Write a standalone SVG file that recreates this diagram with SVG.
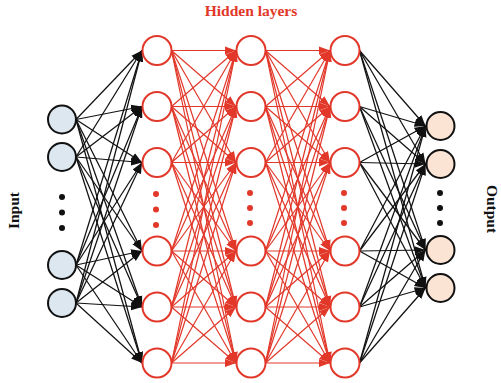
<svg xmlns="http://www.w3.org/2000/svg" width="501" height="383" viewBox="0 0 501 383">
<style>
.k line{stroke:#111;stroke-width:1.25;marker-end:url(#ak)}
.r line{stroke:#e2382a;stroke-width:1.2;marker-end:url(#ar)}
.in{fill:#dde7f0;stroke:#111;stroke-width:2}
.out{fill:#fbe4d4;stroke:#111;stroke-width:2}
.hid{fill:#fff;stroke:#e2382a;stroke-width:2}
.dk{fill:#111}
.dr{fill:#e2382a}
.lbl{font-family:"Liberation Serif","Times New Roman",serif;font-weight:bold;font-size:15.5px;text-anchor:middle}
</style>
<defs>
<marker id="ak" markerUnits="userSpaceOnUse" markerWidth="11" markerHeight="9" refX="11" refY="4.5" orient="auto"><path d="M0,0.5 L11,4.5 L0,8.5 z" fill="#111"/></marker>
<marker id="ar" markerUnits="userSpaceOnUse" markerWidth="11" markerHeight="9" refX="11" refY="4.5" orient="auto"><path d="M0,0.5 L11,4.5 L0,8.5 z" fill="#e2382a"/></marker>
</defs>
<rect width="501" height="383" fill="#fff"/>
<g id="connectors">
<g class="k">
<line x1="76" y1="119.5" x2="142" y2="50.5"/><line x1="76" y1="119.5" x2="142" y2="106.5"/><line x1="76" y1="119.5" x2="142" y2="162.5"/><line x1="76" y1="119.5" x2="142" y2="251"/><line x1="76" y1="119.5" x2="142" y2="307"/><line x1="76" y1="119.5" x2="142" y2="363"/>
<line x1="76" y1="157" x2="142" y2="50.5"/><line x1="76" y1="157" x2="142" y2="106.5"/><line x1="76" y1="157" x2="142" y2="162.5"/><line x1="76" y1="157" x2="142" y2="251"/><line x1="76" y1="157" x2="142" y2="307"/><line x1="76" y1="157" x2="142" y2="363"/>
<line x1="76" y1="265" x2="142" y2="50.5"/><line x1="76" y1="265" x2="142" y2="106.5"/><line x1="76" y1="265" x2="142" y2="162.5"/><line x1="76" y1="265" x2="142" y2="251"/><line x1="76" y1="265" x2="142" y2="307"/><line x1="76" y1="265" x2="142" y2="363"/>
<line x1="76" y1="303" x2="142" y2="50.5"/><line x1="76" y1="303" x2="142" y2="106.5"/><line x1="76" y1="303" x2="142" y2="162.5"/><line x1="76" y1="303" x2="142" y2="251"/><line x1="76" y1="303" x2="142" y2="307"/><line x1="76" y1="303" x2="142" y2="363"/>
</g>
<g class="r">
<line x1="171.5" y1="50.5" x2="236" y2="50.5"/><line x1="171.5" y1="50.5" x2="236" y2="106.5"/><line x1="171.5" y1="50.5" x2="236" y2="162.5"/><line x1="171.5" y1="50.5" x2="236" y2="251"/><line x1="171.5" y1="50.5" x2="236" y2="307"/><line x1="171.5" y1="50.5" x2="236" y2="363"/>
<line x1="171.5" y1="106.5" x2="236" y2="50.5"/><line x1="171.5" y1="106.5" x2="236" y2="106.5"/><line x1="171.5" y1="106.5" x2="236" y2="162.5"/><line x1="171.5" y1="106.5" x2="236" y2="251"/><line x1="171.5" y1="106.5" x2="236" y2="307"/><line x1="171.5" y1="106.5" x2="236" y2="363"/>
<line x1="171.5" y1="162.5" x2="236" y2="50.5"/><line x1="171.5" y1="162.5" x2="236" y2="106.5"/><line x1="171.5" y1="162.5" x2="236" y2="162.5"/><line x1="171.5" y1="162.5" x2="236" y2="251"/><line x1="171.5" y1="162.5" x2="236" y2="307"/><line x1="171.5" y1="162.5" x2="236" y2="363"/>
<line x1="171.5" y1="251" x2="236" y2="50.5"/><line x1="171.5" y1="251" x2="236" y2="106.5"/><line x1="171.5" y1="251" x2="236" y2="162.5"/><line x1="171.5" y1="251" x2="236" y2="251"/><line x1="171.5" y1="251" x2="236" y2="307"/><line x1="171.5" y1="251" x2="236" y2="363"/>
<line x1="171.5" y1="307" x2="236" y2="50.5"/><line x1="171.5" y1="307" x2="236" y2="106.5"/><line x1="171.5" y1="307" x2="236" y2="162.5"/><line x1="171.5" y1="307" x2="236" y2="251"/><line x1="171.5" y1="307" x2="236" y2="307"/><line x1="171.5" y1="307" x2="236" y2="363"/>
<line x1="171.5" y1="363" x2="236" y2="50.5"/><line x1="171.5" y1="363" x2="236" y2="106.5"/><line x1="171.5" y1="363" x2="236" y2="162.5"/><line x1="171.5" y1="363" x2="236" y2="251"/><line x1="171.5" y1="363" x2="236" y2="307"/><line x1="171.5" y1="363" x2="236" y2="363"/>
<line x1="265.5" y1="50.5" x2="330" y2="50.5"/><line x1="265.5" y1="50.5" x2="330" y2="106.5"/><line x1="265.5" y1="50.5" x2="330" y2="162.5"/><line x1="265.5" y1="50.5" x2="330" y2="251"/><line x1="265.5" y1="50.5" x2="330" y2="307"/><line x1="265.5" y1="50.5" x2="330" y2="363"/>
<line x1="265.5" y1="106.5" x2="330" y2="50.5"/><line x1="265.5" y1="106.5" x2="330" y2="106.5"/><line x1="265.5" y1="106.5" x2="330" y2="162.5"/><line x1="265.5" y1="106.5" x2="330" y2="251"/><line x1="265.5" y1="106.5" x2="330" y2="307"/><line x1="265.5" y1="106.5" x2="330" y2="363"/>
<line x1="265.5" y1="162.5" x2="330" y2="50.5"/><line x1="265.5" y1="162.5" x2="330" y2="106.5"/><line x1="265.5" y1="162.5" x2="330" y2="162.5"/><line x1="265.5" y1="162.5" x2="330" y2="251"/><line x1="265.5" y1="162.5" x2="330" y2="307"/><line x1="265.5" y1="162.5" x2="330" y2="363"/>
<line x1="265.5" y1="251" x2="330" y2="50.5"/><line x1="265.5" y1="251" x2="330" y2="106.5"/><line x1="265.5" y1="251" x2="330" y2="162.5"/><line x1="265.5" y1="251" x2="330" y2="251"/><line x1="265.5" y1="251" x2="330" y2="307"/><line x1="265.5" y1="251" x2="330" y2="363"/>
<line x1="265.5" y1="307" x2="330" y2="50.5"/><line x1="265.5" y1="307" x2="330" y2="106.5"/><line x1="265.5" y1="307" x2="330" y2="162.5"/><line x1="265.5" y1="307" x2="330" y2="251"/><line x1="265.5" y1="307" x2="330" y2="307"/><line x1="265.5" y1="307" x2="330" y2="363"/>
<line x1="265.5" y1="363" x2="330" y2="50.5"/><line x1="265.5" y1="363" x2="330" y2="106.5"/><line x1="265.5" y1="363" x2="330" y2="162.5"/><line x1="265.5" y1="363" x2="330" y2="251"/><line x1="265.5" y1="363" x2="330" y2="307"/><line x1="265.5" y1="363" x2="330" y2="363"/>
</g>
<g class="k">
<line x1="359.5" y1="50.5" x2="425.5" y2="126"/><line x1="359.5" y1="50.5" x2="425.5" y2="164"/><line x1="359.5" y1="50.5" x2="425.5" y2="250"/><line x1="359.5" y1="50.5" x2="425.5" y2="288"/>
<line x1="359.5" y1="106.5" x2="425.5" y2="126"/><line x1="359.5" y1="106.5" x2="425.5" y2="164"/><line x1="359.5" y1="106.5" x2="425.5" y2="250"/><line x1="359.5" y1="106.5" x2="425.5" y2="288"/>
<line x1="359.5" y1="162.5" x2="425.5" y2="126"/><line x1="359.5" y1="162.5" x2="425.5" y2="164"/><line x1="359.5" y1="162.5" x2="425.5" y2="250"/><line x1="359.5" y1="162.5" x2="425.5" y2="288"/>
<line x1="359.5" y1="251" x2="425.5" y2="126"/><line x1="359.5" y1="251" x2="425.5" y2="164"/><line x1="359.5" y1="251" x2="425.5" y2="250"/><line x1="359.5" y1="251" x2="425.5" y2="288"/>
<line x1="359.5" y1="307" x2="425.5" y2="126"/><line x1="359.5" y1="307" x2="425.5" y2="164"/><line x1="359.5" y1="307" x2="425.5" y2="250"/><line x1="359.5" y1="307" x2="425.5" y2="288"/>
<line x1="359.5" y1="363" x2="425.5" y2="126"/><line x1="359.5" y1="363" x2="425.5" y2="164"/><line x1="359.5" y1="363" x2="425.5" y2="250"/><line x1="359.5" y1="363" x2="425.5" y2="288"/>
</g>
</g>
<g id="in1"><circle class="in" cx="62" cy="119.5" r="14"/></g>
<g id="in2"><circle class="in" cx="62" cy="157" r="14"/></g>
<g id="in3"><circle class="in" cx="62" cy="265" r="14"/></g>
<g id="in4"><circle class="in" cx="62" cy="303" r="14"/></g>
<g id="in-dots"><circle class="dk" cx="62" cy="197" r="3"/><circle class="dk" cx="62" cy="212.5" r="3"/><circle class="dk" cx="62" cy="228" r="3"/></g>
<g id="h1a"><circle class="hid" cx="157" cy="50.5" r="14.5"/></g>
<g id="h1b"><circle class="hid" cx="157" cy="106.5" r="14.5"/></g>
<g id="h1c"><circle class="hid" cx="157" cy="162.5" r="14.5"/></g>
<g id="h1d"><circle class="hid" cx="157" cy="251" r="14.5"/></g>
<g id="h1e"><circle class="hid" cx="157" cy="307" r="14.5"/></g>
<g id="h1f"><circle class="hid" cx="157" cy="363" r="14.5"/></g>
<g id="h1-dots"><circle class="dr" cx="156" cy="194" r="3"/><circle class="dr" cx="156" cy="209.5" r="3"/><circle class="dr" cx="156" cy="225" r="3"/></g>
<g id="h2a"><circle class="hid" cx="251" cy="50.5" r="14.5"/></g>
<g id="h2b"><circle class="hid" cx="251" cy="106.5" r="14.5"/></g>
<g id="h2c"><circle class="hid" cx="251" cy="162.5" r="14.5"/></g>
<g id="h2d"><circle class="hid" cx="251" cy="251" r="14.5"/></g>
<g id="h2e"><circle class="hid" cx="251" cy="307" r="14.5"/></g>
<g id="h2f"><circle class="hid" cx="251" cy="363" r="14.5"/></g>
<g id="h2-dots"><circle class="dr" cx="250" cy="193" r="3"/><circle class="dr" cx="250" cy="208" r="3"/><circle class="dr" cx="250" cy="223" r="3"/></g>
<g id="h3a"><circle class="hid" cx="345" cy="50.5" r="14.5"/></g>
<g id="h3b"><circle class="hid" cx="345" cy="106.5" r="14.5"/></g>
<g id="h3c"><circle class="hid" cx="345" cy="162.5" r="14.5"/></g>
<g id="h3d"><circle class="hid" cx="345" cy="251" r="14.5"/></g>
<g id="h3e"><circle class="hid" cx="345" cy="307" r="14.5"/></g>
<g id="h3f"><circle class="hid" cx="345" cy="363" r="14.5"/></g>
<g id="h3-dots"><circle class="dr" cx="344" cy="193" r="3"/><circle class="dr" cx="344" cy="208" r="3"/><circle class="dr" cx="344" cy="223" r="3"/></g>
<g id="out1"><circle class="out" cx="440.5" cy="126" r="14"/></g>
<g id="out2"><circle class="out" cx="440.5" cy="164" r="14"/></g>
<g id="out3"><circle class="out" cx="440.5" cy="250" r="14"/></g>
<g id="out4"><circle class="out" cx="440.5" cy="288" r="14"/></g>
<g id="out-dots"><circle class="dk" cx="440" cy="193" r="3"/><circle class="dk" cx="440" cy="208" r="3"/><circle class="dk" cx="440" cy="223" r="3"/></g>
<g id="labels">
<text class="lbl" x="251" y="16" fill="#e2382a">Hidden layers</text>
<text class="lbl" fill="#111" transform="translate(19,210.5) rotate(-90)">Input</text>
<text class="lbl" fill="#111" transform="translate(487,209) rotate(90)">Output</text>
</g>
</svg>
